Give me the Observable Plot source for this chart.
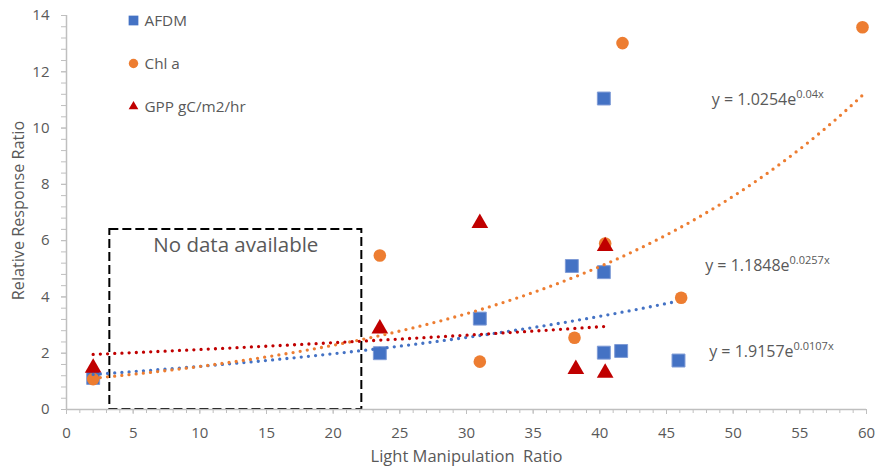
<!DOCTYPE html>
<html>
<head>
<meta charset="utf-8">
<script src="https://cdn.jsdelivr.net/npm/d3@7"></script>
<script src="https://cdn.jsdelivr.net/npm/@observablehq/plot@0.6"></script>
<style>
  html, body { margin: 0; padding: 0; background: #fff; }
  #chart svg { display: block; }
</style>
</head>
<body>
<div id="chart"></div>
<script>
// ---- data ----
const afdmX = [2, 23.5, 31, 37.9, 40.3, 40.3, 40.3, 41.6, 45.9];
const afdmY = [1.12, 2.0, 3.23, 5.1, 4.88, 11.05, 2.02, 2.08, 1.74];
const chlX = [2, 23.5, 31, 38.1, 40.4, 41.7, 46.1, 59.7];
const chlY = [1.08, 5.47, 1.7, 2.55, 5.9, 13.02, 3.97, 13.58];
const gppX = [2, 23.5, 31, 38.2, 40.4, 40.4];
const gppY = [1.48, 2.87, 6.62, 1.43, 5.8, 1.3];

const seriesNames = ["AFDM", "Chl a", "GPP gC/m2/hr"];
const seriesColors = ["#4472C4", "#ED7D31", "#C00000"];
const seriesSymbols = ["square", "circle", "triangle"];

// exponential trendlines as printed on the chart: y = a * e^(b x)
const trendA = [1.1848, 1.0254, 1.9157];
const trendB = [0.0257, 0.04, 0.0107];
const trendLabelBase = ["y = 1.1848e", "y = 1.0254e", "y = 1.9157e"];
const trendLabelExp = ["0.0257x", "0.04x", "0.0107x"];
const trendLabelX = [47.9, 48.4, 48.2];
const trendLabelY = [5.1, 11.0, 2.05];

const xTicks = d3.range(0, 61, 5);
const yTicks = d3.range(0, 15, 2);
const xMinor = d3.range(0, 61, 1);
const yMinor = d3.range(0, 14.01, 0.4);

const noDataBox = [{x1: 3.25, x2: 22.15, y1: 0, y2: 6.4, label: "No data available"}];

// ---- build tables ----
const xs = [afdmX, chlX, gppX];
const ys = [afdmY, chlY, gppY];
const points = seriesNames.map((s, i) => xs[i].map((x, j) => ({series: s, i, x, y: ys[i][j]})));
const trends = seriesNames.map((s, i) => {
  const lo = d3.min(xs[i]), hi = d3.max(xs[i]);
  const n = 200;
  return d3.range(n + 1).map(k => {
    const x = lo + (hi - lo) * k / n;
    return {series: s, x, y: trendA[i] * Math.exp(trendB[i] * x)};
  });
});
const labels = seriesNames.map((s, i) => ({x: trendLabelX[i], y: trendLabelY[i], base: trendLabelBase[i], exp: trendLabelExp[i]}));

const font = "'Open Sans', sans-serif";
const grey = "#595959";
const axisGrey = "#BFBFBF";
const markR = [7.3, 6.3, 6.2];
const legR = [5.5, 4.7, 3.6];

const marks = [];
// box
marks.push(Plot.rect(noDataBox, {x1: "x1", x2: "x2", y1: "y1", y2: "y2", fill: "none", stroke: "#000", strokeWidth: 2, strokeDasharray: "9,4"}));
marks.push(Plot.text(noDataBox, {x: d => (d.x1 + d.x2) / 2, y: "y2", text: "label", dy: 16, fontSize: 20.5, fill: grey}));
// axes lines
marks.push(Plot.ruleY([0], {stroke: axisGrey, strokeWidth: 1.5}));
marks.push(Plot.ruleX([0], {stroke: axisGrey, strokeWidth: 1.5}));
// minor + major ticks
marks.push(Plot.axisX({ticks: xMinor, tickSize: 4, tickFormat: () => "", stroke: axisGrey, label: null}));
marks.push(Plot.axisY({ticks: yMinor, tickSize: 5, tickFormat: () => "", stroke: axisGrey, label: null}));
marks.push(Plot.axisX({ticks: xTicks, tickSize: 5, tickPadding: 13, stroke: axisGrey, fill: grey, fontSize: 15, label: null}));
marks.push(Plot.axisY({ticks: yTicks, tickSize: 5, tickPadding: 12, stroke: axisGrey, fill: grey, fontSize: 15, label: null}));
// points
points.forEach((pts, i) => {
  marks.push(Plot.dot(pts, {x: "x", y: "y", symbol: seriesSymbols[i], fill: seriesColors[i], r: markR[i], stroke: i === 0 ? "#7F9BD6" : "none", strokeWidth: 1}));
});
// trendlines
[0, 1, 2].forEach(i => {
  marks.push(Plot.line(trends[i], {x: "x", y: "y", stroke: seriesColors[i], strokeWidth: 3.3, strokeDasharray: "0 7.2", strokeLinecap: "round"}));
});
// equations
marks.push(Plot.text(labels, {x: "x", y: "y", text: d => d.base + "|" + d.exp, textAnchor: "start", fontSize: 16, fill: grey}));
// legend
seriesNames.forEach((name, i) => {
  marks.push(Plot.dot([name], {frameAnchor: "top-left", dx: 67, dy: 5 + 43 * i, symbol: seriesSymbols[i], fill: seriesColors[i], r: legR[i]}));
  marks.push(Plot.text([name], {frameAnchor: "top-left", dx: 78, dy: 6 + 43 * i, text: d => d, textAnchor: "start", lineAnchor: "middle", fontSize: 15.3, fill: grey}));
});
// axis titles
marks.push(Plot.text(["Relative Response Ratio"], {frameAnchor: "left", dx: -48, dy: -2, rotate: -90, textAnchor: "middle", text: d => d, fontSize: 16.2, fill: grey}));
marks.push(Plot.text(["Light Manipulation  Ratio"], {frameAnchor: "bottom", dy: 52, textAnchor: "middle", text: d => d, fontSize: 16.5, fill: grey}));

const chart = Plot.plot({
  width: 876,
  height: 475,
  marginLeft: 66,
  marginRight: 10,
  marginTop: 15,
  marginBottom: 66,
  style: {fontFamily: font, background: "#fff", color: grey},
  x: {domain: [0, 60]},
  y: {domain: [0, 14]},
  marks
});

// equation superscripts
d3.select(chart).selectAll("text").each(function() {
  const el = d3.select(this);
  const t = el.text();
  if (t.startsWith("y = ") && t.includes("|")) {
    const [base, exp] = t.split("|");
    el.text(null);
    el.append("tspan").text(base);
    el.append("tspan").attr("font-size", 11).attr("dy", "-7").text(exp);
  }
});
document.getElementById("chart").appendChild(chart);
</script>
</body>
</html>
